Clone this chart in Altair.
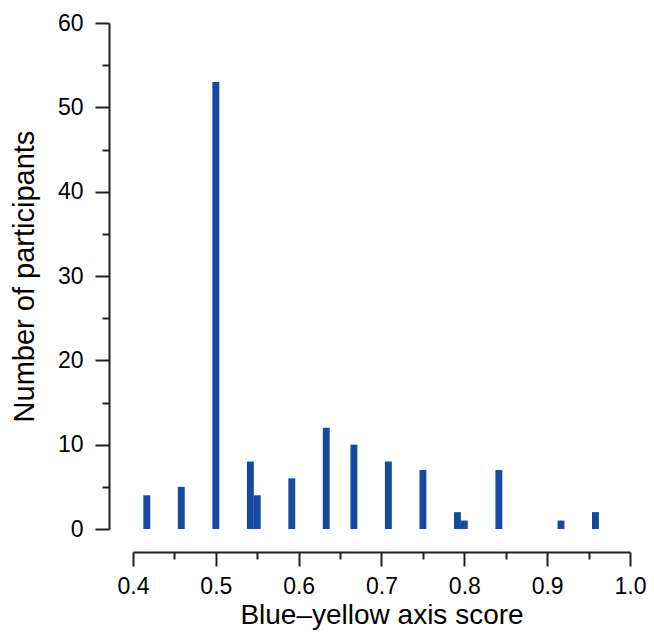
import altair as alt
import pandas as pd

# Histogram bins (bin centres) and counts
scores = [0.4167, 0.4583, 0.5, 0.5417, 0.55, 0.5917, 0.6333, 0.6667,
          0.7083, 0.75, 0.7917, 0.8, 0.8417, 0.9167, 0.9583]
counts = [4, 5, 53, 8, 4, 6, 12, 10, 8, 7, 2, 1, 7, 1, 2]
bin_width = 1 / 120

x_ticks = [0.4, 0.45, 0.5, 0.55, 0.6, 0.65, 0.7, 0.75, 0.8, 0.85, 0.9, 0.95, 1.0]
y_ticks = [0, 5, 10, 15, 20, 25, 30, 35, 40, 45, 50, 55, 60]

df = pd.DataFrame({"score": scores, "count": counts})

FONT = "Liberation Sans"
INK = "#231f20"
BAR = "#164a9f"

chart = (
    alt.Chart(df)
    .transform_calculate(
        x0=f"datum.score - {bin_width/2}",
        x1=f"datum.score + {bin_width/2}",
    )
    .mark_rect(color=BAR)
    .encode(
        x=alt.X(
            "x0:Q",
            scale=alt.Scale(domain=[0.4, 1.0], nice=False, zero=False, padding=0),
            axis=alt.Axis(
                title="Blue\u2013yellow axis score",
                values=x_ticks,
                labelExpr="round(datum.value*100) % 10 === 0 ? format(datum.value, '.1f') : ''",
                tickSize={"condition": {"test": "round(datum.value*100) % 10 === 0", "value": 14}, "value": 7},
                offset=23,
                grid=False,
                domainColor=INK,
                domainWidth=2,
                tickColor=INK,
                tickWidth=2,
                labelFont=FONT,
                labelFontSize=23,
                labelColor="black",
                labelPadding=9,
                labelFlush=False,
                labelOverlap=False,
                titleFont=FONT,
                titleFontSize=28,
                titleFontWeight="normal",
                titleColor="black",
                titlePadding=3,
            ),
        ),
        x2="x1:Q",
        y=alt.Y(
            "count:Q",
            scale=alt.Scale(domain=[0, 60], nice=False, padding=0),
            axis=alt.Axis(
                title="Number of participants",
                values=y_ticks,
                labelExpr="datum.value % 10 === 0 ? datum.value : ''",
                tickSize={"condition": {"test": "datum.value % 10 === 0", "value": 14}, "value": 7},
                offset=24,
                grid=False,
                domainColor=INK,
                domainWidth=2,
                tickColor=INK,
                tickWidth=2,
                labelFont=FONT,
                labelFontSize=23,
                labelColor="black",
                labelPadding=12,
                labelFlush=False,
                labelOverlap=False,
                titleFont=FONT,
                titleFontSize=29,
                titleFontWeight="normal",
                titleColor="black",
                titlePadding=18,
            ),
        ),
        y2=alt.value(506),
    )
    .properties(
        width=497,
        height=506,
        autosize=alt.AutoSizeParams(type="none"),
        padding={"left": 125, "top": 15, "right": 16, "bottom": 105},
    )
    .configure_view(stroke=None)
)

chart.save("out.html", embed_options={"renderer": "svg", "actions": False})
